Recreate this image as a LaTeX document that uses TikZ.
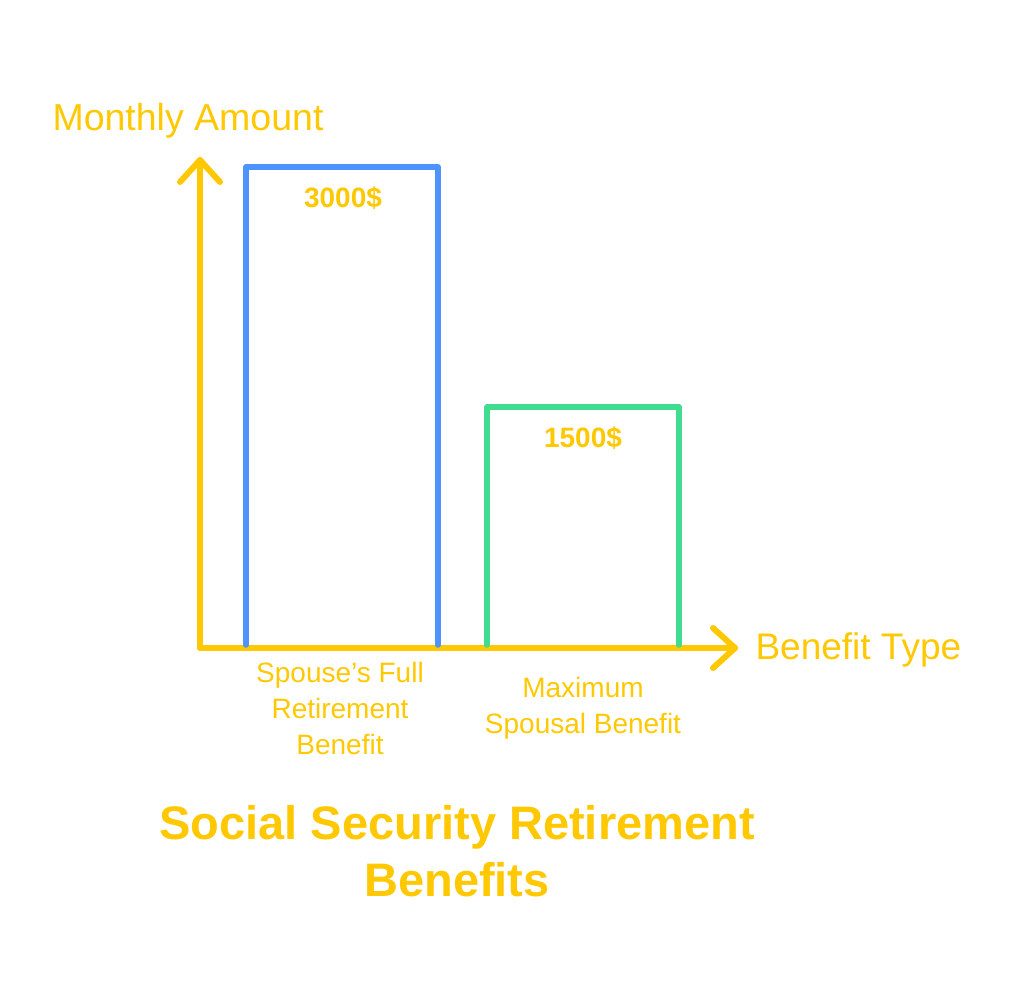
\documentclass[tikz,border=0pt]{standalone}
\usepackage{fontspec}
\setmainfont{Liberation Sans}
\usetikzlibrary{positioning,arrows.meta}
\definecolor{ssyellow}{HTML}{FFC800}
\definecolor{ssblue}{HTML}{4D94FF}
\definecolor{ssgreen}{HTML}{40DD90}
\tikzset{
  axis/.style={draw=ssyellow, line width=6pt, line cap=round, line join=round},
  bar/.style={line width=5.5pt, line cap=round, line join=round},
  lbl/.style={text=ssyellow, font=\fontsize{28}{36}\selectfont, align=center},
  val/.style={text=ssyellow, font=\bfseries\fontsize{28}{32}\selectfont},
}
\begin{document}
\begin{tikzpicture}[x=1pt,y=-1pt]
  \useasboundingbox (0,0) rectangle (1027,1008);
  % axes
  \coordinate (o) at (200,648);
  \coordinate (ytop) at (200,160);
  \coordinate (xend) at (735,648);
  \draw[axis] (o) -- (ytop);
  \draw[axis] (o) -- (xend);
  \draw[axis] (180,182) -- (ytop) -- (220,182);
  \draw[axis] (713,628) -- (xend) -- (713,668);
  \node[lbl, font=\fontsize{37.5}{40}\selectfont, anchor=west] (ylab) at (49,121) {Monthly Amount};
  \node[lbl, font=\fontsize{37}{40}\selectfont, anchor=west] (xlab) at (752,650) {Benefit Type};
  % bars
  \draw[bar, draw=ssblue] (246,645) -- (246,167) -- (438,167) -- (438,645);
  \draw[bar, draw=ssgreen] (487,645) -- (487,407) -- (679,407) -- (679,645);
  \node[val] (v1) at (343,198) {3000\$};
  \node[val] (v2) at (583,438) {1500\$};
  % categories
  \node[lbl] (c1) at (340,708) {Spouse's Full\\Retirement\\Benefit};
  \node[lbl] (c2) at (583,708) {Maximum\\Spousal Benefit};
  % title
  \node[text=ssyellow, font=\bfseries\fontsize{47}{57}\selectfont, align=center] (title) at (457,851) {Social Security Retirement\\Benefits};
\end{tikzpicture}
\end{document}
